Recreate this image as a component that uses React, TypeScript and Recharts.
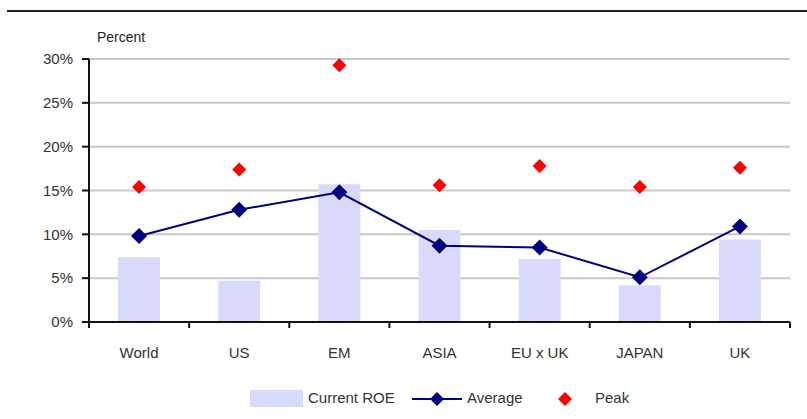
import React from 'react';
import { ComposedChart, Bar, Line, XAxis, YAxis, CartesianGrid, Legend } from 'recharts';

const regions = ['World', 'US', 'EM', 'ASIA', 'EU x UK', 'JAPAN', 'UK'];
const currentRoe = [7.4, 4.7, 15.7, 10.5, 7.2, 4.2, 9.4];
const averageRoe = [9.8, 12.8, 14.8, 8.7, 8.5, 5.1, 10.9];
const peakRoe = [15.4, 17.4, 29.3, 15.6, 17.8, 15.4, 17.6];
const yTicks = [0, 5, 10, 15, 20, 25, 30];

const W = 807;
const H = 419;
const M = { top: 59, right: 17, bottom: 37, left: 29 };
const Y_W = 60;
const BAND = (W - M.left - Y_W - M.right) / regions.length;
const FONT = '"Liberation Sans", Arial, sans-serif';

const data = regions.map((r, i) => ({
  region: r,
  current: currentRoe[i],
  average: averageRoe[i],
  peak: peakRoe[i],
}));

const diamond = (cx: number, cy: number, r: number, fill: string, key?: string) => (
  <polygon key={key} points={`${cx},${cy - r} ${cx + r},${cy} ${cx},${cy + r} ${cx - r},${cy}`} fill={fill} />
);

// custom x tick: ticks on the category borders, label in the middle
function XTick(props: any) {
  const { x, payload, index } = props;
  const axisY = H - M.bottom - 60;
  const left = x - BAND / 2;
  return (
    <g>
      <line x1={left} y1={axisY} x2={left} y2={axisY + 6} stroke="#111" strokeWidth={2} />
      {index === regions.length - 1 && (
        <line x1={x + BAND / 2} y1={axisY} x2={x + BAND / 2} y2={axisY + 6} stroke="#111" strokeWidth={2} />
      )}
      <text x={x} y={axisY + 36} textAnchor="middle" fontSize={15} fill="#333" fontFamily={FONT}>
        {payload.value}
      </text>
    </g>
  );
}

function LegendBox() {
  return (
    <div style={{ position: 'relative', height: 20, fontFamily: FONT, fontSize: 15, color: '#333' }}>
      <div style={{ position: 'absolute', left: 250, top: 1, width: 53, height: 17, background: '#d9d9fc' }} />
      <span style={{ position: 'absolute', left: 308, top: 0 }}>Current ROE</span>
      <svg style={{ position: 'absolute', left: 410, top: 0 }} width={54} height={20}>
        <line x1={2} y1={10} x2={52} y2={10} stroke="#000080" strokeWidth={2} />
        {diamond(27, 10, 7, '#000080')}
      </svg>
      <span style={{ position: 'absolute', left: 467, top: 0 }}>Average</span>
      <svg style={{ position: 'absolute', left: 556, top: 0 }} width={18} height={20}>
        {diamond(9, 10, 7, '#ff0000')}
      </svg>
      <span style={{ position: 'absolute', left: 595, top: 0 }}>Peak</span>
    </div>
  );
}

export default function App() {
  return (
    <div style={{ position: 'absolute', left: 0, top: 0, width: W, height: H, background: '#fff' }}>
      <div style={{ position: 'absolute', left: 7, top: 10, width: W - 7, height: 2, background: '#222' }} />
      <div style={{ position: 'absolute', left: 97, top: 29, fontFamily: FONT, fontSize: 14, color: '#222' }}>Percent</div>
      <ComposedChart width={W} height={H} data={data} margin={M} barCategoryGap="29%">
        <CartesianGrid vertical={false} stroke="#c8c8c8" strokeWidth={2} />
        <XAxis
          dataKey="region"
          axisLine={{ stroke: '#111', strokeWidth: 2 }}
          tickLine={false}
          tick={<XTick />}
          interval={0}
          height={40}
        />
        <YAxis
          width={Y_W}
          domain={[0, 30]}
          ticks={yTicks}
          tickFormatter={(v) => `${v}%`}
          axisLine={{ stroke: '#111', strokeWidth: 2 }}
          tickLine={{ stroke: '#111', strokeWidth: 2 }}
          tickSize={7}
          tickMargin={9}
          tick={{ fontSize: 15, fill: '#333', fontFamily: FONT }}
        />
        <Legend
          verticalAlign="bottom"
          wrapperStyle={{ left: 0, bottom: 10, width: W }}
          content={() => <LegendBox />}
        />
        <Bar dataKey="current" fill="#d9d9fc" isAnimationActive={false} />
        <Line
          dataKey="average"
          stroke="#000080"
          strokeWidth={2}
          isAnimationActive={false}
          dot={(p: any) => diamond(p.cx, p.cy, 8, '#000080', `a${p.index}`)}
          activeDot={false}
        />
        <Line
          dataKey="peak"
          stroke="none"
          isAnimationActive={false}
          dot={(p: any) => diamond(p.cx, p.cy, 7, '#ff0000', `p${p.index}`)}
          activeDot={false}
        />
      </ComposedChart>
    </div>
  );
}
